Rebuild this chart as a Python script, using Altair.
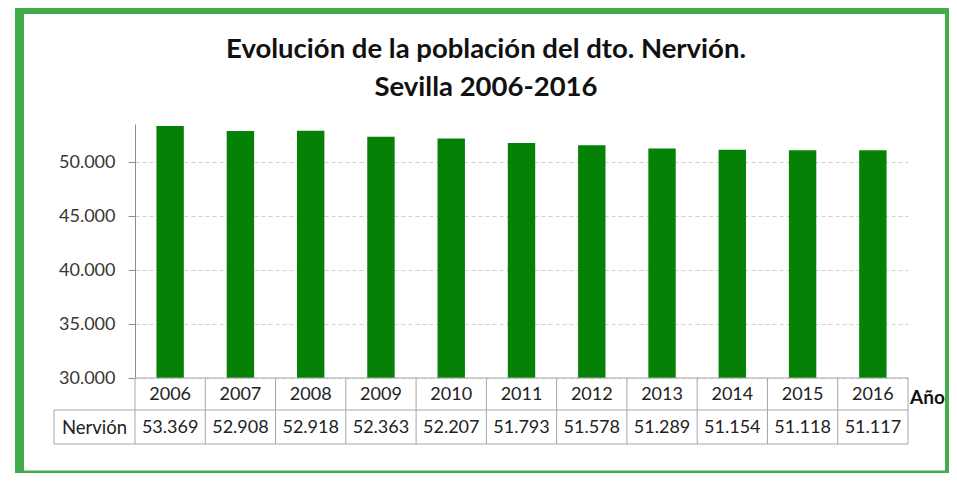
import altair as alt
import pandas as pd

# ---- data ----
years = [2006, 2007, 2008, 2009, 2010, 2011, 2012, 2013, 2014, 2015, 2016]
poblacion = [53369, 52908, 52918, 52363, 52207, 51793, 51578, 51289, 51154, 51118, 51117]
row_label = "Nervión"
axis_label = "Año"
title_lines = ["Evolución de la población del dto. Nervión.", "Sevilla 2006-2016"]
y_ticks = [30000, 35000, 40000, 45000, 50000]

# ---- style ----
W, H = 773, 254
GREEN = "#058205"
BORDER = "#41ad49"
LINE = "#a6a6a6"
FONT = "Lato"
TXT = "#222222"

df = pd.DataFrame({"year": [str(y) for y in years], "pob": poblacion})
base = alt.Chart(df).transform_calculate(
    lab="replace(format(datum.pob, ','), ',', '.')"
)
deco = alt.Chart(pd.DataFrame({"k": [0]}))

xscale = alt.Scale(paddingInner=0, paddingOuter=0)
x = alt.X("year:N", sort=None, axis=None, scale=xscale)

border = deco.mark_rect(fillOpacity=0, stroke=BORDER, strokeWidth=9).encode(
    x=alt.value(-115.5), x2=alt.value(814.5), y=alt.value(-114.5), y2=alt.value(351)
)

bars = base.mark_bar(color=GREEN, width=alt.RelativeBandSize(0.39)).encode(
    x=x,
    y=alt.Y(
        "pob:Q",
        scale=alt.Scale(domain=[30000, 53550], nice=False, zero=False),
        axis=alt.Axis(
            values=y_ticks,
            labelExpr="replace(format(datum.value, ','), ',', '.')",
            grid=True,
            gridDash=[4, 3],
            gridColor="#d0d0d0",
            domainColor="#8c8c8c",
            tickColor="#8c8c8c",
            tickSize=7,
            labelPadding=13,
            labelFont=FONT,
            labelFontSize=18,
            labelColor="#363636",
            title=None,
        ),
    ),
    y2=alt.Y2(datum=30000),
)

vlines = base.mark_rule(color=LINE, strokeWidth=1).encode(
    x=alt.X("year:N", sort=None, axis=None, scale=xscale, bandPosition=0),
    y=alt.value(254),
    y2=alt.value(320),
)
right_line = deco.mark_rule(color=LINE).encode(x=alt.value(W), y=alt.value(254), y2=alt.value(320))
left_line = deco.mark_rule(color=LINE).encode(x=alt.value(-81), y=alt.value(286), y2=alt.value(320))
top_line = deco.mark_rule(color=LINE).encode(x=alt.value(0), x2=alt.value(W), y=alt.value(254))
mid_line = deco.mark_rule(color=LINE).encode(x=alt.value(-81), x2=alt.value(W), y=alt.value(286))
bot_line = deco.mark_rule(color=LINE).encode(x=alt.value(-81), x2=alt.value(W), y=alt.value(320))

year_txt = base.mark_text(font=FONT, fontSize=18, color=TXT).encode(
    x=x, y=alt.value(271), text="year:N"
)
val_txt = base.mark_text(font=FONT, fontSize=18, color=TXT).encode(
    x=x, y=alt.value(304), text="lab:N"
)
row_txt = deco.mark_text(font=FONT, fontSize=18.5, color=TXT).encode(
    x=alt.value(-40.5), y=alt.value(304), text=alt.value(row_label)
)
ano_txt = deco.mark_text(font=FONT, fontSize=19, fontWeight="bold", color="#111111", align="left").encode(
    x=alt.value(775), y=alt.value(274), text=alt.value(axis_label)
)
t1 = deco.mark_text(font=FONT, fontSize=27.5, fontWeight="bold", color="#111111").encode(
    x=alt.value(351), y=alt.value(-74), text=alt.value(title_lines[0])
)
t2 = deco.mark_text(font=FONT, fontSize=27.5, fontWeight="bold", color="#111111").encode(
    x=alt.value(351), y=alt.value(-36), text=alt.value(title_lines[1])
)

chart = alt.layer(
    border, bars, vlines, right_line, left_line, top_line, mid_line, bot_line,
    year_txt, val_txt, row_txt, ano_txt, t1, t2
).properties(
    width=W,
    height=H,
    autosize=alt.AutoSizeParams(type="none"),
    padding={"left": 127, "top": 116, "right": 41, "bottom": 95},
    background="white",
).configure_view(strokeOpacity=0)

chart.save("out.html", embed_options={"renderer": "svg", "actions": False})
